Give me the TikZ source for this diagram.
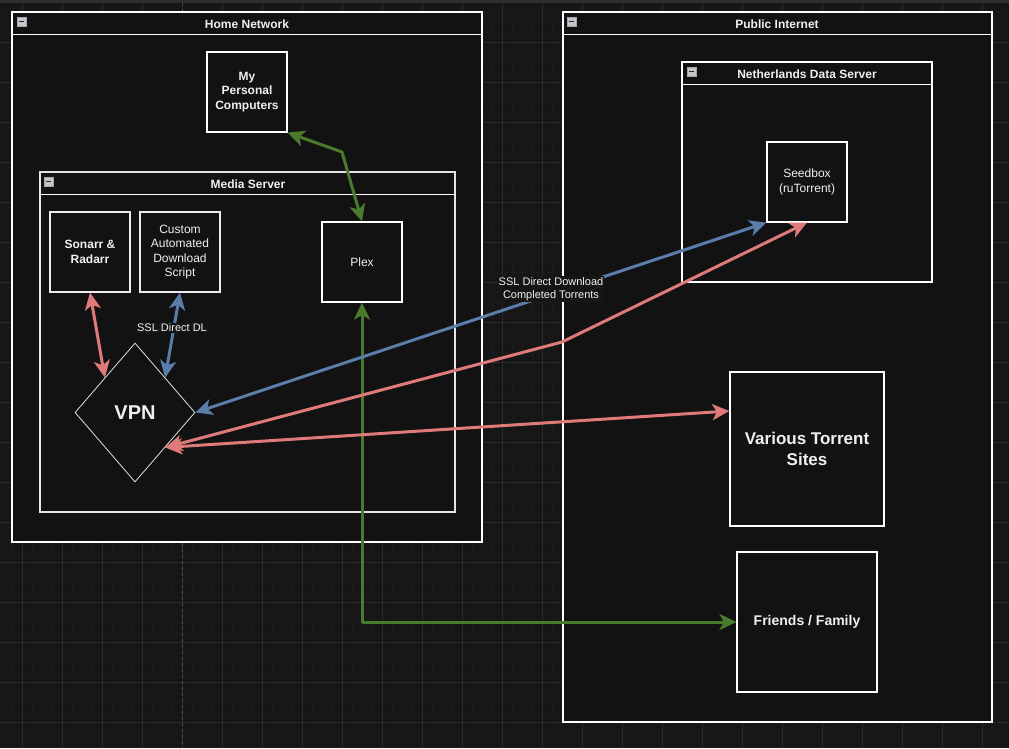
\documentclass[tikz,border=0pt]{standalone}
\usepackage{fontspec}
\setmainfont{Liberation Sans}
\usetikzlibrary{arrows.meta,shapes.geometric,calc}
\definecolor{bg}{HTML}{161616}
\definecolor{gridmaj}{HTML}{2A2A2A}
\definecolor{gridmin}{HTML}{1B1B1B}
\definecolor{boxfill}{HTML}{121212}
\definecolor{txt}{HTML}{F0F0F0}
\definecolor{edgegreen}{HTML}{4A7A2E}
\definecolor{edgered}{HTML}{DE7A7A}
\definecolor{edgeblue}{HTML}{5A7DAA}
\definecolor{iconfill}{HTML}{C4C6CE}
\definecolor{topbar}{HTML}{2E2E2E}
\definecolor{pagebreak}{HTML}{505050}
\tikzset{
  container/.style={draw=white, line width=1.2pt, fill=boxfill, inner sep=0pt},
  subcontainer/.style={draw=#1, line width=1.2pt, fill=boxfill, inner sep=0pt},
  ctitle/.style={text=txt, font=\fontsize{12}{14}\selectfont\bfseries, inner sep=0pt},
  box/.style={draw=white, line width=1.2pt, fill=boxfill, text=txt, align=center, inner sep=2pt,
    font=\fontsize{12}{14.5}\selectfont},
  boldbox/.style={box, font=\fontsize{12}{14.5}\selectfont\bfseries},
  conn/.style={line width=3pt, line join=round,
    arrows={Stealth[length=17pt,width=16pt,inset=4.5pt]-Stealth[length=17pt,width=16pt,inset=4.5pt]}},
  elabel/.style={fill=bg, text=txt, align=center, inner sep=1pt, font=\fontsize{11}{13}\selectfont},
}
\newcommand{\minusicon}[2]{%
  \fill[iconfill, draw=gray!70] (#1-4.5,#2-4.5) rectangle (#1+4.5,#2+4.5);
  \draw[black!85, line width=1.4pt] (#1-2.8,#2) -- (#1+2.8,#2);}
\begin{document}
\begin{tikzpicture}[x=1pt,y=-1pt]
\useasboundingbox (0,0) rectangle (1009,748);
\fill[bg] (0,0) rectangle (1009,748);
% grid
\foreach \i in {0,...,100} {\draw[gridmin, line width=0.5pt] (2+10*\i,0) -- (2+10*\i,748);}
\foreach \i in {0,...,74} {\draw[gridmin, line width=0.5pt] (0,2+10*\i) -- (1009,2+10*\i);}
\foreach \i in {0,...,24} {\draw[gridmaj, line width=0.8pt] (22+40*\i,0) -- (22+40*\i,748);}
\foreach \i in {0,...,18} {\draw[gridmaj, line width=0.8pt] (0,2+40*\i) -- (1009,2+40*\i);}
\draw[pagebreak, dashed, line width=0.6pt] (182,3) -- (182,748);
\fill[topbar] (0,0) rectangle (1009,3);

% containers
\node[container, minimum width=470, minimum height=530] (home) at (247,277) {};
\draw[white, line width=1.2pt] ($(home.north west)+(0,23)$) -- ($(home.north east)+(0,23)$);
\node[ctitle] (hometitle) at (247,24) {Home Network};
\minusicon{21.5}{21.5}

\node[container, minimum width=429, minimum height=710] (pub) at (777.5,367) {};
\draw[white, line width=1.2pt] ($(pub.north west)+(0,23)$) -- ($(pub.north east)+(0,23)$);
\node[ctitle] (pubtitle) at (777,24) {Public Internet};
\minusicon{571.5}{21.5}

\node[container, minimum width=250, minimum height=220] (nl) at (807,172) {};
\draw[white, line width=1.2pt] ($(nl.north west)+(0,23)$) -- ($(nl.north east)+(0,23)$);
\node[ctitle] (nltitle) at (807,74) {Netherlands Data Server};
\minusicon{691.5}{71.5}

\node[box, minimum width=80, minimum height=80] (pc) at (247,92)
  {\bfseries My\\\bfseries Personal\\\bfseries Computers};

\node[subcontainer=white!80!gray, minimum width=415, minimum height=340] (media) at (247.5,342) {};
\draw[white, line width=1.2pt] ($(media.north west)+(0,23)$) -- ($(media.north east)+(0,23)$);
\node[ctitle] (mediatitle) at (248,184) {Media Server};
\minusicon{48.5}{181.5}

% nodes
\node[boldbox, draw=white!85!gray, minimum width=80, minimum height=80] (sonarr) at (90,252) {Sonarr \&\\Radarr};
\node[box, draw=white!85!gray, minimum width=80, minimum height=80] (script) at (180,252) {Custom\\Automated\\Download\\Script};
\node[box, minimum width=80, minimum height=80] (plex) at (362,262) {Plex};
\node[diamond, draw=white!75!gray, line width=0.8pt, fill=boxfill, text=txt, inner sep=0pt,
  minimum width=120, minimum height=139, aspect=0.863,
  font=\fontsize{20}{24}\selectfont\bfseries] (vpn) at (135,412.5) {VPN};
\node[box, minimum width=80, minimum height=80] (seed) at (807,182) {Seedbox\\(ruTorrent)};
\node[boldbox, minimum width=154, minimum height=154, font=\fontsize{17}{21}\selectfont\bfseries] (sites) at (807,449) {Various Torrent\\Sites};
\node[boldbox, minimum width=140, minimum height=140, font=\fontsize{14}{17}\selectfont\bfseries] (friends) at (807,622) {Friends / Family};

% connector anchors
\coordinate (vpnNW) at ($(vpn.west)!0.5!(vpn.north)$);
\coordinate (vpnNE) at ($(vpn.east)!0.5!(vpn.north)$);
\coordinate (vpnSE) at ($(vpn.east)!0.5!(vpn.south)$);
\coordinate (g1) at (342,152);
\coordinate (g2) at (362,622);
\coordinate (r1) at (562,342);

% connectors
\draw[conn, edgegreen] (pc.south east) -- (g1) -- (plex.north);
\draw[conn, edgegreen] (plex.south) -- (g2) -- (friends.west);
\draw[conn, edgered] (sonarr.south) -- (vpnNW);
\draw[conn, edgeblue] (script.south) -- (vpnNE);
\draw[conn, edgeblue] (vpn.east) -- (seed.south west);
\draw[conn, edgered] (vpnSE) -- (r1) -- (seed.south);
\draw[conn, edgered] (vpnSE) -- (sites.west |- 0,411);

% labels
\node[elabel] (lbl1) at (172,328) {SSL Direct DL};
\node[elabel] (lbl2) at (551,289) {SSL Direct Download\\Completed Torrents};
\end{tikzpicture}
\end{document}
